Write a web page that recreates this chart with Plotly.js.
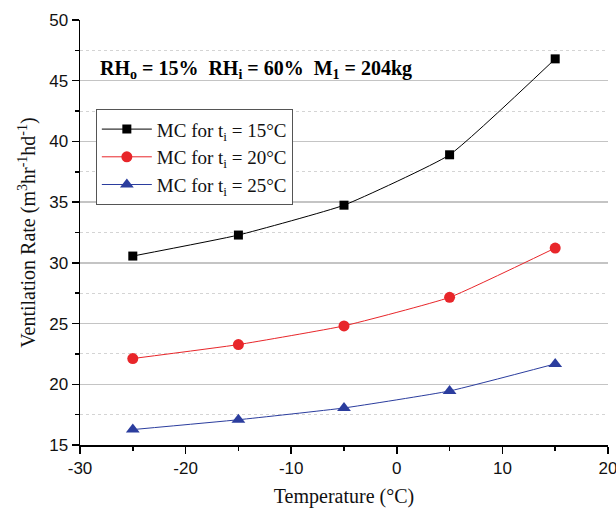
<!DOCTYPE html>
<html>
<head>
<meta charset="utf-8">
<script src="https://cdn.plot.ly/plotly-3.0.1.min.js"></script>
<style>html,body{margin:0;padding:0;background:#fff;}#chart{width:616px;height:511px;}</style>
</head>
<body>
<div id="chart"></div>
<script>
const temperature = [-25, -15, -5, 5, 15];
const mc15 = [30.56, 32.29, 34.75, 38.9, 46.8];
const mc20 = [22.12, 23.27, 24.81, 27.16, 31.22];
const mc25 = [16.27, 17.08, 18.05, 19.45, 21.68];
const seriesNames = ['MC for t<sub>i</sub> = 15°C', 'MC for t<sub>i</sub> = 20°C', 'MC for t<sub>i</sub> = 25°C'];
const xTickVals = [-30, -20, -10, 0, 10, 20];
const xTickText = ['-30', '-20', '-10', '0', '10', '20'];
const yTickVals = [15, 20, 25, 30, 35, 40, 45, 50];
const yTickText = ['15', '20', '25', '30', '35', '40', '45', '50'];
const annotationText = '<b>RH<sub>o</sub> = 15%  RH<sub>i</sub> = 60%  M<sub>1</sub> = 204kg</b>';
const xTitle = 'Temperature (°C)';
const yTitle = 'Ventilation Rate (m<sup>3</sup>hr<sup>-1</sup>hd<sup>-1</sup>)';

const serif = 'Liberation Serif, Times New Roman, serif';
const sans = 'Liberation Sans, Arial, sans-serif';

const traces = [
  {x: temperature, y: mc15, name: seriesNames[0], mode: 'lines+markers', type: 'scatter',
   line: {color: '#000000', width: 1, shape: 'spline', smoothing: 0.4},
   marker: {symbol: 'square', size: 9, color: '#000000'}},
  {x: temperature, y: mc20, name: seriesNames[1], mode: 'lines+markers', type: 'scatter',
   line: {color: '#e8262a', width: 1, shape: 'spline', smoothing: 0.4},
   marker: {symbol: 'circle', size: 11, color: '#e8262a'}},
  {x: temperature, y: mc25, name: seriesNames[2], mode: 'lines+markers', type: 'scatter',
   line: {color: '#2b3d9e', width: 1, shape: 'spline', smoothing: 0.4},
   marker: {symbol: 'triangle-up', size: 12, color: '#2b3d9e'}}
];

const layout = {
  width: 616, height: 511,
  margin: {l: 80, r: 8, t: 20, b: 66},
  paper_bgcolor: '#ffffff', plot_bgcolor: '#ffffff',
  showlegend: true,
  legend: {x: 0.03, y: 0.79, xanchor: 'left', yanchor: 'top',
           bgcolor: '#ffffff', bordercolor: '#555555', borderwidth: 1,
           font: {family: serif, size: 19, color: '#111'},
           tracegroupgap: 0, itemwidth: 50},
  xaxis: {range: [-30, 20], tickmode: 'array', tickvals: xTickVals, ticktext: xTickText,
          ticklabeloverflow: 'allow',
          showgrid: false, zeroline: false,
          showline: true, linecolor: '#000', linewidth: 1.5,
          ticks: 'outside', ticklen: 7, tickwidth: 1.5, tickcolor: '#000',
          minor: {dtick: 5, tick0: -30, ticks: 'outside', ticklen: 4, tickwidth: 1.5, tickcolor: '#000', showgrid: false},
          tickfont: {family: sans, size: 17, color: '#111'},
          title: {text: xTitle, font: {family: serif, size: 20, color: '#111'}, standoff: 12}},
  yaxis: {range: [15, 50], tickmode: 'array', tickvals: yTickVals, ticktext: yTickText,
          showgrid: true, gridcolor: '#c4c4c4', gridwidth: 1.5, zeroline: false,
          showline: true, linecolor: '#000', linewidth: 1.5,
          ticks: 'outside', ticklen: 7, tickwidth: 1.5, tickcolor: '#000',
          minor: {dtick: 2.5, tick0: 15, ticks: 'outside', ticklen: 4, tickwidth: 1.5, tickcolor: '#000',
                  showgrid: true, gridcolor: '#d4d4d4', gridwidth: 1, griddash: 'dot'},
          tickfont: {family: sans, size: 17, color: '#111'},
          title: {text: yTitle, font: {family: serif, size: 20, color: '#111'}, standoff: 8}},
  annotations: [{x: -28.3, y: 45.9, xref: 'x', yref: 'y', xanchor: 'left', yanchor: 'middle',
                 text: annotationText, showarrow: false,
                 font: {family: serif, size: 20, color: '#000'}}]
};

Plotly.newPlot('chart', traces, layout, {displayModeBar: false, staticPlot: true});
</script>
</body>
</html>
